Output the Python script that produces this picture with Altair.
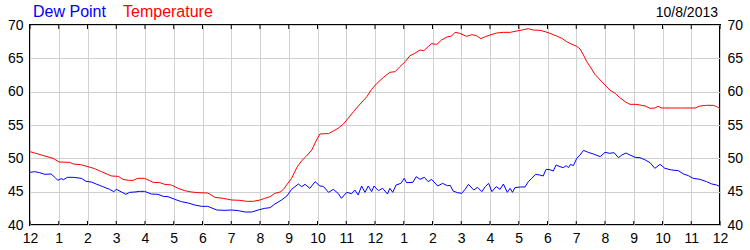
import altair as alt
import pandas as pd

# minutes since midnight, values in °F
temp_min = [0, 17, 31, 48, 61, 83, 90, 106, 121, 135, 149, 170, 184, 194, 205, 215, 225, 239, 250, 257,
            271, 281, 295, 309, 323, 337, 351, 371, 386, 403, 421, 438, 452, 466, 480, 490, 501, 511, 522, 529,
            537, 546, 557, 567, 577, 588, 598, 605, 616, 623, 633, 643, 654, 664, 675, 689, 703, 713, 724, 737,
            751, 762, 772, 783, 793, 803, 814, 822, 831, 838, 849, 859, 870, 880, 887, 897, 911, 922, 932, 941,
            950, 960, 974, 988, 1002, 1016, 1030, 1040, 1050, 1064, 1075, 1085, 1099, 1110, 1120, 1131, 1141, 1148, 1155, 1162,
            1169, 1179, 1190, 1200, 1210, 1221, 1231, 1242, 1252, 1263, 1273, 1284, 1294, 1304, 1311, 1318, 1336, 1357, 1388, 1398,
            1412, 1426, 1433, 1440]
temp_val = [51.0, 50.65, 50.35, 50.0, 49.45, 49.4, 49.15, 49.05, 48.75, 48.45, 48.0, 47.35, 47.3, 46.85, 46.7, 46.7, 47.0, 47.0, 46.65, 46.4,
            46.35, 46.1, 46.0, 45.5, 45.15, 44.95, 44.85, 44.8, 44.15, 44.0, 43.75, 43.7, 43.55, 43.55, 43.75, 44.0, 44.25, 44.75, 44.95, 45.35,
            46.15, 47.0, 48.65, 49.65, 50.35, 51.25, 52.75, 53.65, 53.7, 53.7, 54.1, 54.5, 55.15, 56.0, 57.0, 58.15, 59.25, 60.35, 61.25, 62.1,
            62.9, 63.0, 63.75, 64.5, 65.4, 65.75, 66.25, 66.15, 66.75, 67.2, 67.1, 67.75, 68.2, 68.35, 68.9, 68.75, 68.3, 68.55, 68.4, 67.95,
            68.25, 68.5, 68.8, 68.9, 68.9, 69.1, 69.3, 69.45, 69.25, 69.2, 69.0, 68.75, 68.35, 68.0, 67.5, 67.1, 66.8, 66.4, 65.5, 64.5,
            63.75, 62.6, 61.75, 61.0, 60.25, 59.75, 59.1, 58.5, 58.1, 58.1, 58.0, 57.85, 57.5, 57.55, 57.8, 57.55, 57.55, 57.55, 57.55, 57.85,
            57.95, 57.95, 57.75, 57.5]

dew_min = [0, 10, 20, 31, 44, 52, 58, 65, 70, 78, 90, 107, 117, 128, 138, 152, 166, 175, 180, 191,
           200, 208, 219, 229, 239, 253, 267, 278, 288, 302, 316, 330, 344, 358, 371, 390, 407, 421, 435, 449,
           463, 476, 490, 501, 511, 525, 536, 546, 560, 567, 574, 584, 595, 605, 612, 623, 633, 643, 650, 661,
           671, 678, 685, 692, 699, 706, 713, 718, 727, 736, 746, 751, 757, 764, 774, 781, 786, 799, 806, 814,
           823, 831, 838, 851, 861, 871, 877, 883, 892, 901, 908, 915, 926, 934, 943, 950, 957, 964, 973, 981,
           988, 996, 1002, 1007, 1012, 1023, 1033, 1040, 1047, 1055, 1064, 1071, 1077, 1085, 1092, 1098, 1106, 1113, 1119, 1124,
           1128, 1134, 1141, 1148, 1155, 1165, 1176, 1190, 1200, 1210, 1219, 1228, 1235, 1244, 1252, 1263, 1273, 1284, 1294, 1304,
           1315, 1325, 1339, 1353, 1364, 1374, 1384, 1398, 1412, 1423, 1433, 1440]
dew_val = [47.9, 48.0, 47.85, 47.6, 47.65, 47.15, 46.7, 46.95, 46.8, 47.15, 47.15, 47.0, 46.55, 46.45, 46.15, 45.75, 45.35, 45.0, 45.35, 44.95,
           44.6, 44.9, 44.95, 45.05, 45.05, 44.65, 44.6, 44.3, 44.25, 43.85, 43.5, 43.3, 43.0, 42.8, 42.8, 42.25, 42.2, 42.25, 42.15, 41.95,
           41.95, 42.25, 42.5, 42.6, 43.15, 43.75, 44.35, 45.35, 46.15, 45.75, 46.1, 45.5, 46.5, 45.85, 45.8, 44.9, 45.35, 44.75, 44.0, 44.9,
           44.7, 45.25, 44.5, 45.85, 44.9, 45.85, 45.0, 45.85, 45.15, 45.5, 44.65, 45.5, 44.9, 46.0, 46.25, 47.0, 46.35, 46.4, 47.25, 46.85,
           47.15, 46.5, 46.85, 45.85, 46.25, 45.9, 45.95, 45.1, 44.85, 44.75, 45.35, 46.1, 45.25, 45.65, 45.0, 45.75, 46.25, 45.0, 45.75, 45.35,
           46.15, 44.9, 45.5, 44.9, 45.6, 45.7, 45.7, 46.5, 47.0, 47.6, 47.5, 47.35, 48.35, 48.3, 48.1, 49.0, 48.75, 48.6, 48.9, 48.6,
           49.1, 48.9, 50.0, 50.5, 51.2, 50.9, 50.65, 50.25, 50.9, 50.75, 50.85, 50.1, 50.5, 50.8, 50.5, 50.15, 50.1, 49.75, 49.35, 48.5,
           49.1, 48.5, 48.25, 48.15, 47.65, 47.4, 47.0, 46.85, 46.5, 46.15, 46.0, 45.75]

series_names = ["Dew Point", "Temperature"]
series_colors = ["#0000ff", "#ff0000"]
date_label = "10/8/2013"
hour_ticks = list(range(0, 1441, 60))
y_ticks = [40, 45, 50, 55, 60, 65, 70]

df = pd.concat([
    pd.DataFrame({"t": dew_min, "v": dew_val, "s": series_names[0]}),
    pd.DataFrame({"t": temp_min, "v": temp_val, "s": series_names[1]}),
])

AX_FONT = "Liberation Sans Narrow, Liberation Sans, Arial"
W, H = 690, 200

xscale = alt.Scale(domain=[0, 1440], nice=False, zero=False)
yscale = alt.Scale(domain=[40, 70], nice=False, zero=False)

xaxis = alt.Axis(values=hour_ticks, labelExpr="(datum.value/60) % 12 == 0 ? '12' : '' + ((datum.value/60) % 12)",
                 grid=True, gridColor="#d0d0d0", gridWidth=1, domain=False, ticks=False,
                 labelFont=AX_FONT, labelFontSize=14, labelColor="black", labelPadding=6,
                 labelFlush=False, labelOverlap=False, title=None)
yaxis_l = alt.Axis(values=y_ticks, orient="left", grid=True, gridColor="#d0d0d0", gridWidth=1, domain=False,
                   ticks=False, labelFont=AX_FONT, labelFontSize=14, labelColor="black", labelPadding=7,
                   labelFlush=False, labelOverlap=False, title=None)
yaxis_r = alt.Axis(values=y_ticks, orient="right", grid=False, domain=False,
                   ticks=False, labelFont=AX_FONT, labelFontSize=14, labelColor="black", labelPadding=7,
                   labelFlush=False, labelOverlap=False, title=None)

lines = alt.Chart(df).mark_line(strokeWidth=1, clip=True).encode(
    x=alt.X("t:Q", scale=xscale, axis=xaxis),
    y=alt.Y("v:Q", scale=yscale, axis=yaxis_l),
    color=alt.Color("s:N", scale=alt.Scale(domain=series_names, range=series_colors), legend=None),
    detail="s:N",
)

right_axis = alt.Chart(pd.DataFrame({"v": y_ticks})).mark_point(opacity=0).encode(
    x=alt.value(0),
    y=alt.Y("v:Q", scale=yscale, axis=yaxis_r),
)

tick_df = pd.DataFrame({"t": hour_ticks})
ticks_bottom = alt.Chart(tick_df).mark_rule(color="black", strokeWidth=1).encode(
    x=alt.X("t:Q", scale=xscale, axis=xaxis), y=alt.value(H), y2=alt.value(H - 4))
ticks_top = alt.Chart(tick_df).mark_rule(color="black", strokeWidth=1).encode(
    x=alt.X("t:Q", scale=xscale, axis=xaxis), y=alt.value(0), y2=alt.value(4))

leg_df = pd.DataFrame({"s": series_names, "c": series_colors})
leg_dew = alt.Chart(leg_df.iloc[[0]]).mark_text(align="left", baseline="alphabetic", font="Liberation Sans",
                                                fontSize=16, color=series_colors[0]).encode(
    text="s:N", x=alt.value(3), y=alt.value(-8))
leg_temp = alt.Chart(leg_df.iloc[[1]]).mark_text(align="left", baseline="alphabetic", font="Liberation Sans",
                                                 fontSize=16, color=series_colors[1]).encode(
    text="s:N", x=alt.value(93), y=alt.value(-8))
date_txt = alt.Chart(pd.DataFrame({"d": [date_label]})).mark_text(align="right", baseline="alphabetic",
                                                                  font=AX_FONT, fontSize=14, color="black").encode(
    text="d:N", x=alt.value(688), y=alt.value(-8))

chart = alt.layer(lines, right_axis, ticks_bottom, ticks_top, leg_dew, leg_temp, date_txt).resolve_axis(
    y="independent"
).properties(
    width=W, height=H,
    autosize=alt.AutoSizeParams(type="none"),
    padding={"left": 30, "top": 25, "right": 30, "bottom": 25},
    background="white",
).configure_view(stroke="black", strokeWidth=2)

chart.save("out.html", embed_options={"renderer": "svg", "actions": False})
